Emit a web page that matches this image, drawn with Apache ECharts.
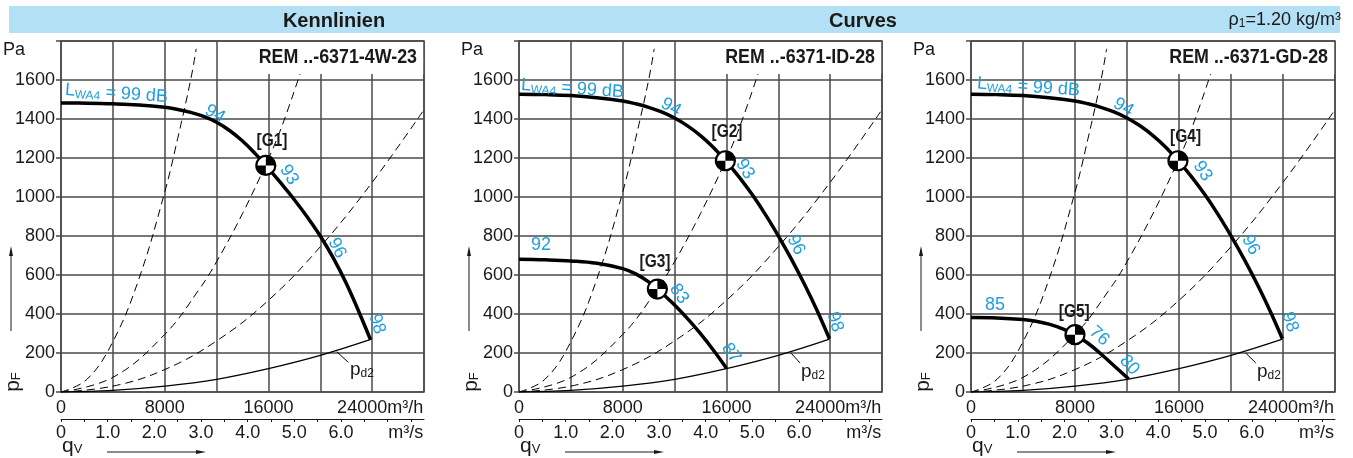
<!DOCTYPE html>
<html><head><meta charset="utf-8">
<script src="https://cdn.jsdelivr.net/npm/echarts/dist/echarts.min.js"></script>
<style>html,body{margin:0;padding:0;background:#fff}#c{width:1353px;height:458px}</style>
</head><body><div id="c"></div>
<script>
// ================= DATA =================
// tick labels
const yTicks = [0, 200, 400, 600, 800, 1000, 1200, 1400, 1600];
const xTicksM3h = [0, 8000, 16000, 24000];
const xTicksM3s = [0, 1, 2, 3, 4, 5, 6];
const panelTitles = ['REM ..-6371-4W-23', 'REM ..-6371-ID-28', 'REM ..-6371-GD-28'];

// system curves (dashed), q in m3/h, p in Pa
const sysA_q = [0, 2000, 4000, 6000, 8000, 9000, 10000, 10430];
const sysA_p = [0, 65, 258, 578, 1025, 1300, 1600, 1760];
const sysB_q = [0, 4000, 8000, 10675, 12000, 14000, 15900, 17000, 18450];
const sysB_p = [0, 75, 295, 528, 668, 915, 1182, 1356, 1634];
const sysC_q = [0, 4000, 8000, 12000, 16000, 20000, 24000, 27950];
const sysC_p = [0, 30, 115, 262, 470, 745, 1075, 1443];
// dynamic pressure pd2
const pd2_q = [0, 4000, 8000, 12000, 16000, 20000, 23950];
const pd2_p = [0, 8, 30, 65, 120, 188, 271];

// fan curve REM ..-6371-4W-23
const fan4W_q = [0, 2000, 4000, 6000, 8000, 9000, 10000, 11000, 12000, 13000, 14000, 15000, 15800, 17000, 18000, 19000, 20000, 21000, 22000, 23000, 23870];
const fan4W_p = [1482, 1481, 1478, 1472, 1460, 1449, 1434, 1413, 1383, 1341, 1287, 1221, 1162, 1068, 986, 897, 800, 688, 558, 408, 269];
// fan curve REM ..-6371-ID-28 / GD-28 (full speed)
const fanD_q = [0, 2000, 4000, 6000, 8000, 9000, 10000, 11000, 12000, 13000, 14000, 15000, 15920, 17000, 18000, 19000, 20000, 21000, 22000, 23000, 23950];
const fanD_p = [1527, 1525, 1520, 1509, 1492, 1478, 1460, 1436, 1405, 1365, 1315, 1254, 1186, 1101, 1011, 911, 801, 683, 555, 417, 273];
// reduced curve ID-28 (G3)
const fanG3_q = [0, 2000, 4000, 6000, 8000, 9000, 10000, 10675, 12000, 13000, 14000, 15000, 16000];
const fanG3_p = [681, 678, 672, 660, 633, 606, 565, 528, 446, 376, 299, 214, 122];
// reduced curve GD-28 (G5)
const fanG5_q = [0, 2000, 4000, 5000, 6000, 7000, 8000, 9000, 10000, 11000, 12130];
const fanG5_p = [382, 380, 372, 363, 348, 325, 294, 250, 195, 135, 67];

// operating points
const opLabel = ['[G1]', '[G2]', '[G3]', '[G4]', '[G5]'];
const opPanel = [0, 1, 1, 2, 2];
const opQ = [15800, 15920, 10675, 15920, 8000];
const opP = [1162, 1186, 528, 1186, 294];
const opLabelQ = [16275, 16044, 10490, 16507, 7945];
const opLabelP = [1287, 1333, 667, 1308, 410];

// sound power levels along the curves, dB
const levelPanel = [0, 0, 0, 0, 1, 1, 1, 1, 1, 1, 1, 2, 2, 2, 2, 2, 2, 2];
const levelText = ['94', '93', '96', '98', '94', '93', '96', '98', '92', '83', '87', '94', '93', '96', '98', '85', '76', '80'];
const levelQ = [11879, 17587, 21289, 24375, 11725, 17433, 21366, 24375, 1697, 12342, 16353, 11725, 17818, 21520, 24529, 1851, 9873, 12187];
const levelP = [1426, 1113, 738, 349, 1461, 1143, 754, 359, 754, 503, 200, 1461, 1133, 754, 359, 446, 287, 138];

// L_WA4 label anchors and pd2 label anchors
const lwaQ = [309, 154, 463];
const lwaP = [1549, 1574, 1582];
const pdLabQ = [22292, 21752, 22000];
const pdLabP = [113, 103, 103];
const leadQ0 = [21266, 20981, 21135];
const leadP0 = [207, 200, 200];
const leadQ1 = [22162, 21675, 21906];
const leadP1 = [152, 149, 149];

// ================= STYLE / LAYOUT =================
const FONT = "'Liberation Sans', Arial, Helvetica, sans-serif";
const BLUE = '#1e9fdc';
const GRIDC = '#4a4a4a';
const INK = '#1a1a1a';
const layout = [{left: 61, width: 363}, {left: 519, width: 363}, {left: 971, width: 364}];
const TOP = 41, HEIGHT = 351;
const levelRot = [-30, -58, -62, -72, -30, -58, -62, -72, 0, -55, -55, -30, -58, -62, -72, 0, -42, -48];
const m3sMax = 28000 / 3600;

const pts = (q, p) => q.map((v, i) => [v, p[i]]);
const isInt = v => Math.abs(v - Math.round(v)) < 1e-6;

const chart = echarts.init(document.getElementById('c'));

const grid = layout.map(l => ({left: l.left, top: TOP, width: l.width, height: HEIGHT, show: true,
  borderColor: GRIDC, borderWidth: 1.5, backgroundColor: 'transparent'}));

const xAxis = [];
layout.forEach((l, i) => xAxis.push({
  gridIndex: i, type: 'value', min: 0, max: 28000, interval: 4000, position: 'bottom',
  axisLine: {show: false}, axisTick: {show: false},
  splitLine: {show: true, lineStyle: {color: GRIDC, width: 1.5}},
  axisLabel: {margin: 7, fontSize: 18, fontFamily: FONT, color: INK, showMaxLabel: true,
    formatter: v => xTicksM3h.includes(v) ? (v === 24000 ? '{n|24000}{u|m³/h}' : String(v)) : '',
    rich: {n: {fontSize: 18, fontFamily: FONT, color: INK, padding: [0, 0, 0, 16]},
           u: {fontSize: 18, fontFamily: FONT, color: INK}}}
}));
layout.forEach((l, i) => xAxis.push({
  gridIndex: i, type: 'value', min: 0, max: m3sMax, interval: 0.5, position: 'bottom', offset: 27,
  axisLine: {show: true, lineStyle: {color: INK, width: 1}},
  axisTick: {show: true, length: 3, lineStyle: {color: INK, width: 1}},
  splitLine: {show: false},
  axisLabel: {margin: 5, fontSize: 18, fontFamily: FONT, color: INK, showMaxLabel: false,
    formatter: v => {
      if (!isInt(v)) return '';
      const r = Math.round(v);
      if (r === 7) return '{u|m³/s}';
      if (!xTicksM3s.includes(r)) return '';
      return r === 0 ? '0' : r.toFixed(1);
    },
    rich: {u: {fontSize: 18, fontFamily: FONT, color: INK, padding: [0, 0, 0, 36]}}}
}));

const yAxis = layout.map((l, i) => ({
  gridIndex: i, type: 'value', min: 0, max: 1800, interval: 200,
  axisLine: {show: false},
  axisTick: {show: true, length: 5, lineStyle: {color: GRIDC, width: 1.5}},
  splitLine: {show: true, lineStyle: {color: GRIDC, width: 1.5}},
  axisLabel: {margin: 6, fontSize: 18, fontFamily: FONT, color: INK,
    formatter: v => yTicks.includes(v) ? String(v) : ''}
}));

const series = [];
const lineS = (i, data, style) => series.push(Object.assign({
  type: 'line', xAxisIndex: i, yAxisIndex: i, data, symbol: 'none', smooth: 0.4,
  silent: true, z: 3}, style));
const dashed = {lineStyle: {color: '#000', width: 1, type: [8, 5]}};
const thin = {lineStyle: {color: '#000', width: 1.2}};
const thick = {lineStyle: {color: '#000', width: 3.5}, z: 4};
const fans = [[pts(fan4W_q, fan4W_p)], [pts(fanD_q, fanD_p), pts(fanG3_q, fanG3_p)], [pts(fanD_q, fanD_p), pts(fanG5_q, fanG5_p)]];

layout.forEach((l, i) => {
  lineS(i, pts(sysA_q, sysA_p), dashed);
  lineS(i, pts(sysB_q, sysB_p), dashed);
  lineS(i, pts(sysC_q, sysC_p), dashed);
  lineS(i, pts(pd2_q, pd2_p), thin);
  lineS(i, [[leadQ0[i], leadP0[i]], [leadQ1[i], leadP1[i]]], {lineStyle: {color: '#000', width: 1}, smooth: false});
  fans[i].forEach(d => lineS(i, d, thick));

  // operating point symbols
  const opIdx = opPanel.map((p, k) => p === i ? k : -1).filter(k => k >= 0);
  series.push({type: 'scatter', xAxisIndex: i, yAxisIndex: i, silent: true, z: 6,
    symbol: 'circle', symbolSize: 19,
    itemStyle: {color: '#fff', borderColor: '#000', borderWidth: 2.2, opacity: 1},
    data: opIdx.map(k => [opQ[k], opP[k]])});
  series.push({type: 'scatter', xAxisIndex: i, yAxisIndex: i, silent: true, z: 7,
    symbol: 'path://M0,0 L0,-10 A10,10 0 0 1 10,0 Z M0,0 L0,10 A10,10 0 0 1 -10,0 Z', symbolSize: 19,
    itemStyle: {color: '#000', opacity: 1},
    data: opIdx.map(k => [opQ[k], opP[k]])});

  // text annotations
  const ann = [];
  levelPanel.forEach((p, k) => { if (p === i) ann.push({value: [levelQ[k], levelP[k]],
    label: {formatter: levelText[k], rotate: levelRot[k], fontSize: 18, fontFamily: FONT, color: BLUE}}); });
  ann.push({value: [lwaQ[i], lwaP[i]], label: {formatter: '{l|L}{s|WA4}{l| = 99 dB}', rotate: -4, align: 'left',
    rich: {l: {fontSize: 18, fontFamily: FONT, color: BLUE, lineHeight: 20},
           s: {fontSize: 12, fontFamily: FONT, color: BLUE, lineHeight: 6, verticalAlign: 'bottom'}}}});
  ann.push({value: [pdLabQ[i], pdLabP[i]], label: {formatter: '{l|p}{s|d2}', align: 'left',
    rich: {l: {fontSize: 19, fontFamily: FONT, color: INK, lineHeight: 20},
           s: {fontSize: 12, fontFamily: FONT, color: INK, lineHeight: 6, verticalAlign: 'bottom'}}}});
  series.push({type: 'scatter', xAxisIndex: i, yAxisIndex: i, silent: true, z: 8,
    symbolSize: 1, itemStyle: {color: 'rgba(0,0,0,0)', opacity: 1},
    label: {show: true, position: 'inside', align: 'center', verticalAlign: 'middle'},
    data: ann});
});

chart.setOption({
  animation: false,
  backgroundColor: '#fff',
  textStyle: {fontFamily: FONT},
  grid, xAxis, yAxis, series
});

// ================= decorations =================
const graphic = [
  {type: 'rect', z: 0, shape: {x: 9, y: 6, width: 1331, height: 27}, style: {fill: '#b3e0f4'}},
  {type: 'text', z: 1, x: 334, y: 21, style: {text: 'Kennlinien', font: `bold 20px ${FONT}`, fill: INK, align: 'center', verticalAlign: 'middle'}},
  {type: 'text', z: 1, x: 863, y: 21, style: {text: 'Curves', font: `bold 20px ${FONT}`, fill: INK, align: 'center', verticalAlign: 'middle'}},
  {type: 'text', z: 1, x: 1341, y: 20, style: {text: '{a|ρ}{s|1}{a|=1.20 kg/m³}', align: 'right', verticalAlign: 'middle',
    rich: {a: {fontSize: 18, fontFamily: FONT, fill: INK, lineHeight: 20},
           s: {fontSize: 12, fontFamily: FONT, fill: INK, lineHeight: 6, verticalAlign: 'bottom'}}}}
];
layout.forEach((l, i) => {
  const L = l.left, R = l.left + l.width;
  graphic.push({type: 'rect', z: 5, shape: {x: R - 177, y: 42, width: 176.2, height: 32}, style: {fill: '#fff'}});
  graphic.push({type: 'text', z: 6, x: R - 7, y: 57, scaleX: 0.85,
    style: {text: panelTitles[i], font: `bold 21px ${FONT}`, fill: INK, align: 'right', verticalAlign: 'middle'}});
  graphic.push({type: 'text', z: 6, x: L - 58, y: 50, style: {text: 'Pa', font: `18px ${FONT}`, fill: INK, align: 'left', verticalAlign: 'middle'}});
  graphic.push({type: 'text', z: 6, x: L - 48, y: 382, rotation: Math.PI / 2,
    style: {text: '{p|p}{s|F}', align: 'center', verticalAlign: 'middle',
      rich: {p: {fontSize: 21, fontFamily: FONT, fill: INK, lineHeight: 20},
             s: {fontSize: 13, fontFamily: FONT, fill: INK, lineHeight: 4, verticalAlign: 'bottom'}}}});
  graphic.push({type: 'line', z: 6, shape: {x1: L - 50, y1: 331, x2: L - 50, y2: 250}, style: {stroke: INK, lineWidth: 1}});
  graphic.push({type: 'polygon', z: 6, shape: {points: [[L - 50, 246], [L - 52, 256], [L - 48, 256]]}, style: {fill: INK}});
  graphic.push({type: 'text', z: 6, x: L + 1, y: 446,
    style: {text: '{p|q}{s|V}', align: 'left', verticalAlign: 'middle',
      rich: {p: {fontSize: 21, fontFamily: FONT, fill: INK, lineHeight: 20},
             s: {fontSize: 13, fontFamily: FONT, fill: INK, lineHeight: 4, verticalAlign: 'bottom'}}}});
  graphic.push({type: 'line', z: 6, shape: {x1: L + 46, y1: 452, x2: L + 140, y2: 452}, style: {stroke: INK, lineWidth: 1}});
  graphic.push({type: 'polygon', z: 6, shape: {points: [[L + 145, 452], [L + 135, 450], [L + 135, 454]]}, style: {fill: INK}});
});
// operating point labels, placed through the axes' scales, drawn condensed
opLabel.forEach((t, k) => {
  const pos = chart.convertToPixel({xAxisIndex: opPanel[k], yAxisIndex: opPanel[k]}, [opLabelQ[k], opLabelP[k]]);
  graphic.push({type: 'text', z: 9, x: pos[0], y: pos[1], scaleX: 0.86,
    style: {text: t, font: `bold 18px ${FONT}`, fill: INK, align: 'center', verticalAlign: 'middle'}});
});
chart.setOption({graphic});
</script>
</body></html>
